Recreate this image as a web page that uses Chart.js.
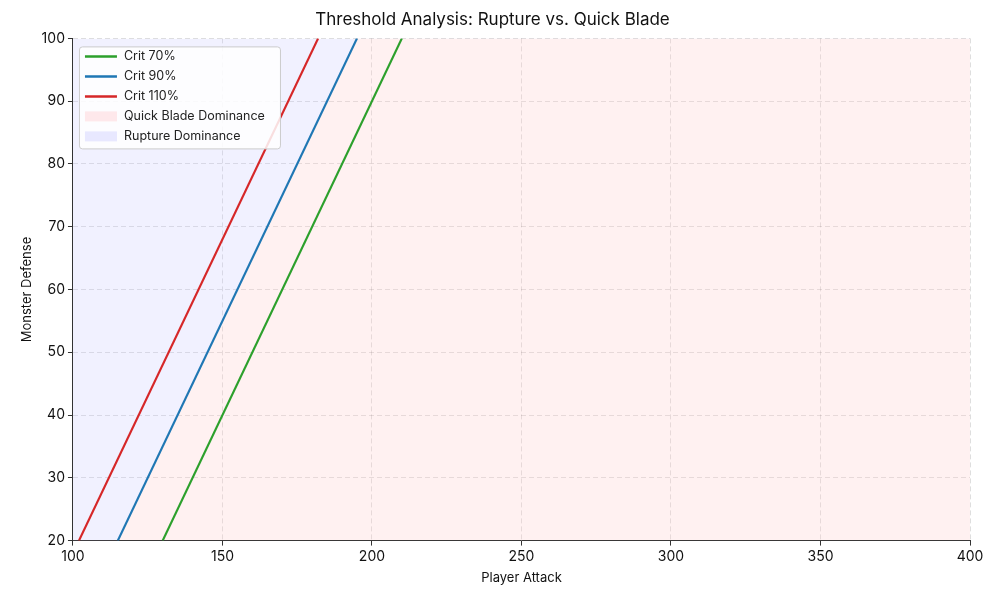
<!DOCTYPE html>
<html><head><meta charset="utf-8">
<script src="https://cdn.jsdelivr.net/npm/chart.js@4"></script>
<style>html,body{margin:0;background:#fff}#w{width:1000px;height:600px}</style>
</head><body><div id="w"><canvas id="c"></canvas></div>
<script>
const crit70X = [130, 210];
const crit90X = [115, 195];
const crit110X = [102, 182];
const lineY = [20, 100];
const fillX = [100, 115, 195, 400];
const fillY = [5, 20, 100, 305];
const seriesNames = ['Crit 70%', 'Crit 90%', 'Crit 110%', 'Quick Blade Dominance', 'Rupture Dominance'];
const colors = ['#2ca02c', '#1f77b4', '#d62728'];
const xTicks = [100,150,200,250,300,350,400];
const yTicks = [20,30,40,50,60,70,80,90,100];
const pts = (xs, ys) => xs.map((x,i)=>({x, y: ys[i]}));
const F = 'Inter, Roboto, sans-serif';

const legendPlugin = {
  id:'lg',
  afterDraw(ch){
    const ctx = ch.ctx, a = ch.chartArea;
    const x0 = a.left+6, y0 = a.top+8, w = 201, h = 102;
    ctx.save();
    ctx.fillStyle='rgba(255,255,255,0.85)'; ctx.strokeStyle='#ccc'; ctx.lineWidth=1;
    ctx.beginPath(); ctx.roundRect(x0+0.5,y0+0.5,w,h,3); ctx.fill(); ctx.stroke();
    ctx.font='12.5px '+F; ctx.textBaseline='middle';
    seriesNames.forEach((n,i)=>{
      const y = y0+10+i*20;
      if(i<3){ ctx.strokeStyle=colors[i]; ctx.lineWidth=2.5; ctx.beginPath(); ctx.moveTo(x0+6,y); ctx.lineTo(x0+38,y); ctx.stroke(); }
      else { ctx.fillStyle = i==3?'rgba(255,200,205,0.4)':'rgba(200,200,255,0.4)'; ctx.fillRect(x0+6,y-5,32,10); }
      ctx.fillStyle='#222'; ctx.fillText(n, x0+45, y);
    });
    ctx.restore();
  }
};

new Chart(document.getElementById('c'), {
  type:'line',
  data:{datasets:[
    {label:seriesNames[3], data:pts(fillX,fillY), borderWidth:0, pointRadius:0, fill:'start', backgroundColor:'rgba(255,200,200,0.25)', order:5},
    {label:seriesNames[4], data:pts(fillX,fillY), borderWidth:0, pointRadius:0, fill:'end', backgroundColor:'rgba(190,190,255,0.22)', order:5},
    {label:seriesNames[0], data:pts(crit70X,lineY), borderColor:colors[0], borderWidth:2.2, pointRadius:0, fill:false},
    {label:seriesNames[1], data:pts(crit90X,lineY), borderColor:colors[1], borderWidth:2.2, pointRadius:0, fill:false},
    {label:seriesNames[2], data:pts(crit110X,lineY), borderColor:colors[2], borderWidth:2.2, pointRadius:0, fill:false}
  ]},
  options:{
    responsive:true, maintainAspectRatio:false, animation:false,
    layout:{padding:{left:15,right:30,top:0,bottom:10}},
    plugins:{legend:{display:false}, tooltip:{enabled:false},
      title:{display:true, text:'Threshold Analysis: Rupture vs. Quick Blade', color:'#111', font:{family:F,size:17,weight:'normal'}, padding:{top:10,bottom:8}}},
    scales:{
      x:{type:'linear', min:100, max:400, afterBuildTicks:s=>{s.ticks=xTicks.map(v=>({value:v}));},
        title:{display:true,text:'Player Attack',color:'#111',font:{family:F,size:13},padding:{top:2}},
        ticks:{color:'#111',font:{family:F,size:14}},
        grid:{color:'rgba(0,0,0,0.13)', tickColor:'#333', tickLength:5},
        border:{display:true,color:'#333',dash:[5,3]}},
      y:{type:'linear', min:20, max:100, afterBuildTicks:s=>{s.ticks=yTicks.map(v=>({value:v}));},
        title:{display:true,text:'Monster Defense',color:'#111',font:{family:F,size:13}},
        ticks:{color:'#111',font:{family:F,size:14}},
        grid:{color:'rgba(0,0,0,0.13)', tickColor:'#333', tickLength:5},
        border:{display:true,color:'#333',dash:[5,3]}}
    }
  },
  plugins:[legendPlugin]
});
</script></body></html>
